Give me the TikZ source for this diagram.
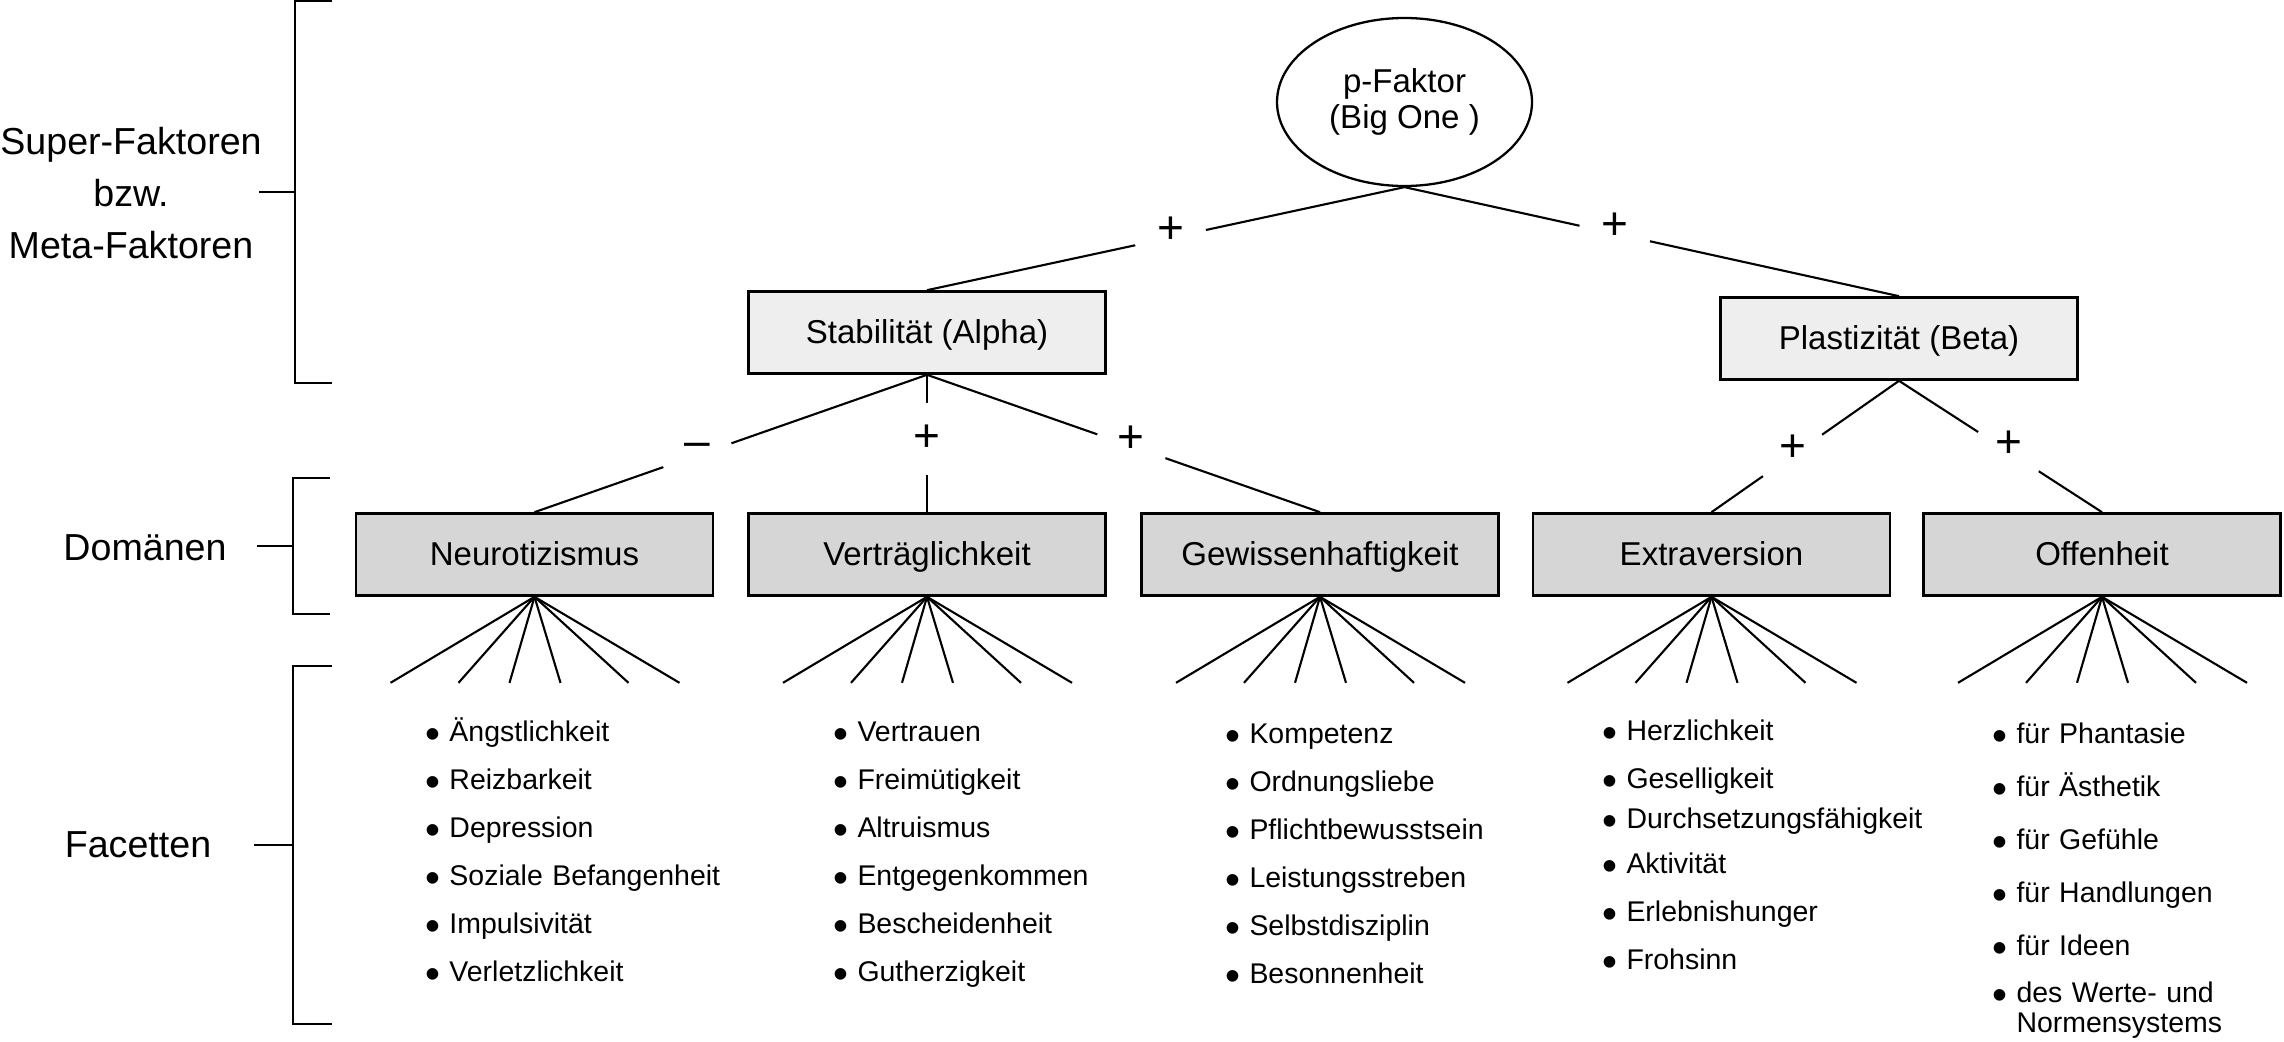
\documentclass[tikz,border=0pt]{standalone}
\usepackage{graphicx}
\usepackage{fontspec}
\setmainfont{Liberation Sans}
\usetikzlibrary{shapes.geometric}
\newcommand{\dotmark}{\raisebox{-0.7mm}{\scalebox{1.5}{•}}}

\begin{document}
\begin{tikzpicture}[
  x=0.1mm, y=-0.1mm, line width=0.6pt,
  every node/.style={inner sep=0pt},
  factor/.style={draw, line width=0.75pt, minimum width=35.7mm, minimum height=8.2mm,
    text height=0.75em, text depth=0.12em, font=\fontsize{9.4pt}{11pt}\selectfont},
  superbox/.style={factor, fill=gray!13},
  trait/.style={factor, fill=gray!32},
  sign/.style={circle, fill=white, minimum size=7.2mm, text height=0.59em, text depth=0.23em,
    font=\fontsize{13.1pt}{13.1pt}\selectfont},
  layer/.style={anchor=base, align=center, text width=30mm, font=\fontsize{10.7pt}{14.9pt}\selectfont},
  facets/.style={anchor=base west, align=left, text width=40mm, font=\fontsize{8.1pt}{13.66pt}\selectfont}
  ]
  \useasboundingbox (0,0) rectangle (2284,1041);

  % levels on the left
  \node[layer] (sup) at (131,154) {Super-Faktoren\\bzw.\\Meta-Faktoren};
  \node[layer] (dom) at (145,560) {Domänen};
  \node[layer] (fac) at (138,857) {Facetten};
  \draw (332,1.2) -- (295,1.2) -- (295,383) -- (332,383) (259,192) -- (295,192);
  \draw (330,478) -- (293,478) -- (293,614) -- (330,614) (257,546) -- (293,546);
  \draw (332,666) -- (293,666) -- (293,1024) -- (332,1024) (254,845) -- (293,845);

  % factors
  \node[ellipse, draw, line width=0.65pt, minimum width=25.5mm, minimum height=16.8mm, align=center,
    font=\fontsize{9.4pt}{10pt}\selectfont] (p) at (1404.5,102) {p-Faktor\\(Big One )};
  \node[superbox] (alpha) at (927,332.5) {Stabilität (Alpha)};
  \node[superbox] (beta) at (1899,338.5) {Plastizität (Beta)};
  \node[trait] (neuro) at (534.5,554.5) {Neurotizismus};
  \node[trait] (vertr) at (927,554.5) {Verträglichkeit};
  \node[trait] (gewiss) at (1320,554.5) {Gewissenhaftigkeit};
  \node[trait] (extra) at (1711.5,554.5) {Extraversion};
  \node[trait] (offen) at (2102,554.5) {Offenheit};

  \draw (p.south) -- node[sign, pos=0.49] {+} (alpha.north);
  \draw (p.south) -- node[sign, pos=0.425] {+} (beta.north);
  \draw (alpha.south) -- node[sign, pos=0.585, text depth=0.53em] {–} (neuro.north);
  \draw (alpha.south) -- node[sign, pos=0.467, text height=0.704em, text depth=0pt] {+} (vertr.north);
  \draw (alpha.south) -- node[sign, pos=0.52] {+} (gewiss.north);
  \draw (beta.south) -- node[sign, pos=0.568] {+} (extra.north);
  \draw (beta.south) -- node[sign, pos=0.539] {+} (offen.north);

  % facets
  \foreach \t in {neuro,vertr,gewiss,extra,offen}
    \foreach \dx [count=\i] in {-144,-76,-25,26,94,145} {
      \coordinate (\t-\i) at ([xshift=\dx*0.1mm, yshift=-8.6mm]\t.south);
      \draw (\t.south) -- (\t-\i);
    }

  \node[facets] (neuro-f) at (424,741) {\dotmark{} Ängstlichkeit\\\dotmark{} Reizbarkeit\\\dotmark{} Depression\\\dotmark{} Soziale Befangenheit\\\dotmark{} Impulsivität\\\dotmark{} Verletzlichkeit};
  \node[facets] (vertr-f) at (832,741) {\dotmark{} Vertrauen\\\dotmark{} Freimütigkeit\\\dotmark{} Altruismus\\\dotmark{} Entgegenkommen\\\dotmark{} Bescheidenheit\\\dotmark{} Gutherzigkeit};
  \node[facets] (gewiss-f) at (1224,743) {\dotmark{} Kompetenz\\\dotmark{} Ordnungsliebe\\\dotmark{} Pflichtbewusstsein\\\dotmark{} Leistungsstreben\\\dotmark{} Selbstdisziplin\\\dotmark{} Besonnenheit};
  \node[facets] (extra-f) at (1601,740) {\dotmark{} Herzlichkeit\\\dotmark{} Geselligkeit\\[-0.8mm]\dotmark{} Durchsetzungsfähigkeit\\[-0.3mm]\dotmark{} Aktivität\\\dotmark{} Erlebnishunger\\\dotmark{} Frohsinn};
  \node[facets, font=\fontsize{8.1pt}{15.1pt}\selectfont] (offen-f) at (1991,743) {\dotmark{} für Phantasie\\\dotmark{} für Ästhetik\\\dotmark{} für Gefühle\\\dotmark{} für Handlungen\\\dotmark{} für Ideen\\[-0.6mm]\dotmark{} des Werte- und\\[-2.3mm]\phantom{\dotmark{} }Normensystems};
\end{tikzpicture}
\end{document}
